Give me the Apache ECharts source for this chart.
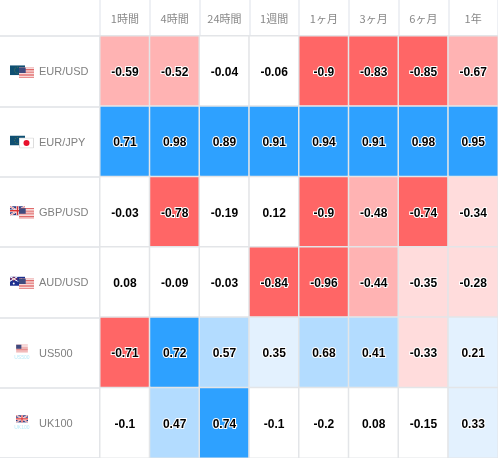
<!DOCTYPE html>
<html><head><meta charset="utf-8">
<style>html,body{margin:0;padding:0;background:#fff}#c{width:498px;height:458px}</style>
<script src="https://cdn.jsdelivr.net/npm/echarts@6/dist/echarts.min.js"></script></head>
<body><div id="c"></div>
<script>
const periods = ['1時間','4時間','24時間','1週間','1ヶ月','3ヶ月','6ヶ月','1年'];
const symbols = ['EUR/USD','EUR/JPY','GBP/USD','AUD/USD','US500','UK100'];
const subLabels = ['','','','','US500','UK100'];
const eurUsd = [-0.59,-0.52,-0.04,-0.06,-0.9,-0.83,-0.85,-0.67];
const eurJpy = [0.71,0.98,0.89,0.91,0.94,0.91,0.98,0.95];
const gbpUsd = [-0.03,-0.78,-0.19,0.12,-0.9,-0.48,-0.74,-0.34];
const audUsd = [0.08,-0.09,-0.03,-0.84,-0.96,-0.44,-0.35,-0.28];
const us500 = [-0.71,0.72,0.57,0.35,0.68,0.41,-0.33,0.21];
const uk100 = [-0.1,0.47,0.74,-0.1,-0.2,0.08,-0.15,0.33];
const rows = [eurUsd,eurJpy,gbpUsd,audUsd,us500,uk100];
const cells = [];
rows.forEach((r,y)=>r.forEach((v,x)=>cells.push([x,y,v])));

const us = (x,y,w,h)=>{let s=`<svg x="${x}" y="${y}" width="${w}" height="${h}" viewBox="0 0 19 13"><rect width="19" height="13" fill="#fff"/>`;
  for(let i=0;i<7;i++) s+=`<rect y="${i*2-0.1}" width="19" height="1.1" fill="#e06a6a"/>`;
  return s+`<rect width="8.5" height="7" fill="#3f4a7e"/></svg>`;};
const eu = (x,y,w,h)=>`<svg x="${x}" y="${y}" width="${w}" height="${h}"><rect width="100%" height="100%" fill="#0f4f72"/><circle cx="50%" cy="50%" r="3" fill="none" stroke="#7d8f3f" stroke-width="0.7" stroke-dasharray="1 1.2"/></svg>`;
const jp = (x,y,w,h)=>`<svg x="${x}" y="${y}" width="${w}" height="${h}"><rect x="0.5" y="0.5" width="${w-1}" height="${h-1}" fill="#fff" stroke="#ddd"/><circle cx="${w/2}" cy="${h/2}" r="3" fill="#e8112d"/></svg>`;
const gb = (x,y,w,h)=>`<svg x="${x}" y="${y}" width="${w}" height="${h}" viewBox="0 0 20 12"><rect width="20" height="12" fill="#2a3a80"/><path d="M0 0L20 12M20 0L0 12" stroke="#fff" stroke-width="2.4"/><path d="M0 0L20 12M20 0L0 12" stroke="#d33" stroke-width="0.8"/><path d="M10 0V12M0 6H20" stroke="#fff" stroke-width="3.6"/><path d="M10 0V12M0 6H20" stroke="#d33" stroke-width="2"/></svg>`;
const au = (x,y,w,h)=>`<svg x="${x}" y="${y}" width="${w}" height="${h}" viewBox="0 0 20 12"><rect width="20" height="12" fill="#1c2f8f"/><g transform="scale(.5)"><path d="M0 0L20 12M20 0L0 12" stroke="#fff" stroke-width="2.4"/><path d="M10 0V12M0 6H20" stroke="#d33" stroke-width="2"/><path d="M0 0L20 12M20 0L0 12" stroke="#fff" stroke-width="2"/></g><circle cx="5" cy="9" r="1.3" fill="#fff"/><circle cx="15" cy="3" r="1" fill="#fff"/><circle cx="15" cy="9" r="1" fill="#fff"/><circle cx="12.5" cy="6" r="1" fill="#fff"/><circle cx="17.5" cy="5" r="1" fill="#fff"/></svg>`;
const wrap = (w,h,b)=>'data:image/svg+xml;charset=utf-8,'+encodeURIComponent(`<svg xmlns="http://www.w3.org/2000/svg" width="${w}" height="${h}">${b}</svg>`);
const pair = (a,b)=>wrap(24,16,a(0,2,15,10)+b(9,4,15,11));
const flagImages = [pair(eu,us),pair(eu,jp),pair(gb,us),pair(au,us),wrap(12,18,us(0,1,12,8)),wrap(12,18,gb(0,1,12,8))];

const rich = {t:{color:'#808080',fontSize:11,fontFamily:'Liberation Sans',padding:[2,0,0,0]},s0:{width:10},s1:{width:5},s2:{width:16},s3:{width:11}};
flagImages.forEach((u,i)=>{rich['f'+i]= i<4 ? {width:24,height:16,backgroundColor:{image:u}} : {width:12,height:18,backgroundColor:{image:u}};});

const chart = echarts.init(document.getElementById('c'),null,{renderer:'canvas'});
chart.setOption({
  animation:false,
  backgroundColor:'#fff',
  grid:{left:100,right:0,top:36,bottom:0,outerBoundsMode:'none'},
  xAxis:{type:'category',data:periods,position:'top',
    axisLine:{show:true,lineStyle:{color:'#d9dde5',width:2}},
    axisTick:{show:true,length:36,lineStyle:{color:'#eef0f4',width:2}},
    axisLabel:{color:'#888',fontSize:11,margin:12,interval:0,fontFamily:'Noto Sans CJK JP'},
    splitLine:{show:false}},
  yAxis:{type:'category',data:symbols,inverse:true,
    axisLine:{show:false},
    axisTick:{show:true,length:100,lineStyle:{color:'#dfe2e6',width:1.5}},
    axisLabel:{interval:0,align:'left',margin:100,rich,
      formatter:(v,i)=> i<4 ? `{s0|}{f${i}|}{s1|}{t|${v}}` : `{s2|}{f${i}|}{s3|}{t|${v}}`},
    splitLine:{show:false}},
  visualMap:{show:false,type:'piecewise',dimension:2,seriesIndex:0,pieces:[
    {gte:-1,lt:-0.7,color:'#ff6666'},
    {gte:-0.7,lt:-0.4,color:'#ffb3b3'},
    {gte:-0.4,lt:-0.2,color:'#ffdcdc'},
    {gte:-0.2,lte:0.2,color:'#ffffff'},
    {gt:0.2,lte:0.4,color:'#e3f1fe'},
    {gt:0.4,lt:0.7,color:'#b3dcff'},
    {gte:0.7,lte:1,color:'#2ea1ff'}]},
  series:[{type:'heatmap',data:cells,
    itemStyle:{borderColor:'#e3e5e8',borderWidth:1.5},
    label:{show:true,offset:[0,1.5],formatter:p=>String(p.value[2]),color:'#000',fontWeight:'bold',fontSize:12,fontFamily:'Liberation Sans',textBorderColor:'#fff',textBorderWidth:2},
    emphasis:{disabled:true}},
   {type:'scatter',symbolSize:1,itemStyle:{color:'rgba(0,0,0,0)'},silent:true,clip:false,z:5,
    data:subLabels.map((s,i)=>[0,i,s]).filter(d=>d[2]),
    label:{show:true,position:'inside',offset:[-103,5],formatter:p=>p.value[2],color:'#a6e6f7',fontSize:5,fontFamily:'Liberation Sans'}}]
});
</script></body></html>
